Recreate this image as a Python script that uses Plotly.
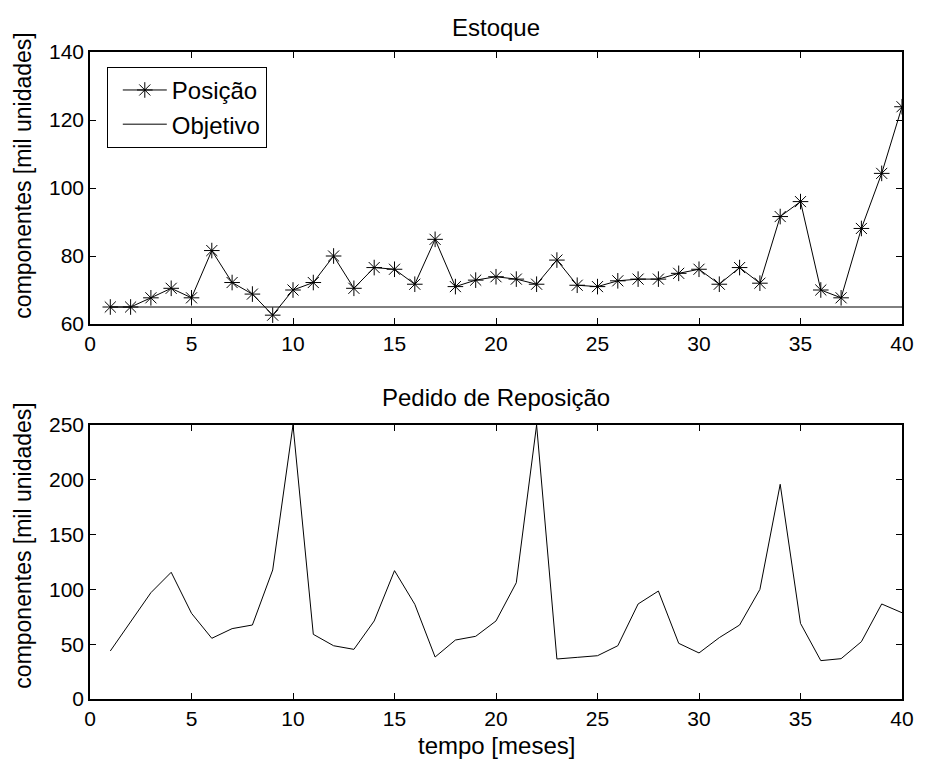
import plotly.graph_objects as go
from plotly.subplots import make_subplots

meses = list(range(1, 41))
posicao = [65, 65, 67.7, 70.5, 67.7, 81.6, 72.2, 68.8, 62.6, 70.0,
           72.2, 80.0, 70.5, 76.6, 76.1, 71.7, 84.9, 71.0, 72.9, 73.9,
           73.2, 71.7, 78.8, 71.4, 71.0, 72.7, 73.2, 73.2, 74.9, 76.1,
           71.7, 76.6, 72.0, 91.6, 96.0, 70.0, 67.7, 88.1, 104.3, 123.9]
objetivo_x = [1, 40]
objetivo = [65, 65]
pedido = [43.8, 70, 97, 115.6, 78.2, 55.4, 64.2, 67.5, 117.7, 250,
          59.0, 48.6, 45.3, 71.2, 117.1, 86.4, 38.3, 53.8, 57.2, 71.2,
          106.1, 250, 36.5, 38.0, 39.5, 48.6, 86.7, 98.5, 50.8, 42.0,
          56.0, 67.5, 100, 195.9, 69.0, 35.0, 36.8, 52.3, 86.7, 78.7]

xticks = [0, 5, 10, 15, 20, 25, 30, 35, 40]
yticks_top = [60, 80, 100, 120, 140]
yticks_bot = [0, 50, 100, 150, 200, 250]

FONT = "Liberation Sans, Arial, sans-serif"
TICK_SIZE = 21
LABEL_SIZE = 24

fig = make_subplots(rows=2, cols=1)
fig.add_trace(go.Scatter(x=meses, y=posicao, mode="lines+markers", name="Posição",
                         line=dict(color="black", width=1),
                         marker=dict(symbol="asterisk-open", size=13,
                                     line=dict(color="black", width=1))),
              row=1, col=1)
fig.add_trace(go.Scatter(x=objetivo_x, y=objetivo, mode="lines", name="Objetivo",
                         line=dict(color="black", width=1)), row=1, col=1)
fig.add_trace(go.Scatter(x=meses, y=pedido, mode="lines", showlegend=False,
                         line=dict(color="black", width=1)), row=2, col=1)

axis_common = dict(showline=True, linecolor="black", linewidth=1.5, mirror="ticks",
                   ticks="inside", ticklen=6, tickcolor="black", tickwidth=1,
                   showgrid=False, zeroline=False,
                   tickfont=dict(family=FONT, size=TICK_SIZE, color="black"))

fig.update_xaxes(range=[0, 40], tickvals=xticks, domain=[0, 1], **axis_common)
fig.update_yaxes(range=[60, 140], tickvals=yticks_top, row=1, col=1, **axis_common)
fig.update_yaxes(range=[0, 250], tickvals=yticks_bot, row=2, col=1, **axis_common)
fig.update_layout(yaxis=dict(domain=[0.5796, 1.0]), yaxis2=dict(domain=[0.0, 0.4235]))

fig.update_layout(
    width=926, height=764,
    margin=dict(l=90, r=16, t=52, b=65),
    paper_bgcolor="white", plot_bgcolor="white",
    font=dict(family=FONT, size=LABEL_SIZE, color="black"),
    showlegend=True,
    legend=dict(x=0.0207, y=0.977, xanchor="left", yanchor="top",
                bordercolor="black", borderwidth=1, bgcolor="white",
                font=dict(family=FONT, size=24, color="black"),
                tracegroupgap=0, itemwidth=44, indentation=10),
)

H = 764 - 52 - 65


def py(p):
    return 1 - (p - 52) / H


def px(p):
    return (p - 90) / 820


def add_text(text, x, y, angle=0, size=LABEL_SIZE):
    fig.add_annotation(text=text, x=x, y=y, xref="paper", yref="paper",
                       showarrow=False, textangle=angle,
                       font=dict(family=FONT, size=size, color="black"),
                       xanchor="center", yanchor="middle")


add_text("Estoque", 0.5, py(28))
add_text("Pedido de Reposição", 0.5, py(397))
add_text("tempo [meses]", 0.5, py(745))
add_text("componentes [mil unidades]", px(22), py(176), -90, 23)
add_text("componentes [mil unidades]", px(22), py(546), -90, 23)

fig.write_html("out.html")
